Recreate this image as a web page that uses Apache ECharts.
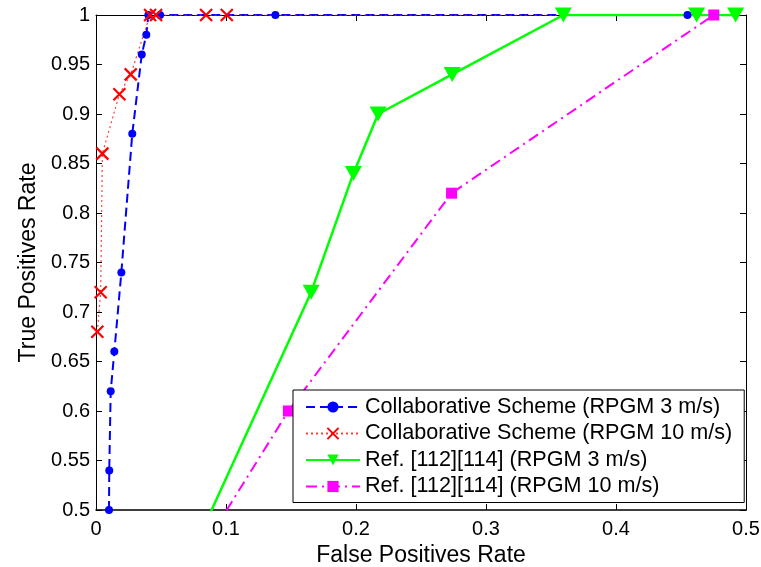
<!DOCTYPE html>
<html>
<head>
<meta charset="utf-8">
<script src="https://cdn.jsdelivr.net/npm/echarts@6/dist/echarts.min.js"></script>
<style>
  html, body { margin: 0; padding: 0; background: #ffffff; }
  #chart { width: 761px; height: 567px; }
</style>
</head>
<body>
<div id="chart"></div>
<script>
// ROC curves: false positive rate (x) vs true positive rate (y)
const seriesNames = [
  'Collaborative Scheme (RPGM 3 m/s)',
  'Collaborative Scheme (RPGM 10 m/s)',
  'Ref. [112][114] (RPGM 3 m/s)',
  'Ref. [112][114] (RPGM 10 m/s)'
];

const fprCollab3 = [0.010, 0.0102, 0.0113, 0.0141, 0.0195, 0.0279, 0.0352, 0.0387, 0.0403, 0.0493, 0.138, 0.455];
const tprCollab3 = [0.50, 0.54, 0.62, 0.66, 0.74, 0.88, 0.96, 0.98, 1.00, 1.00, 1.00, 1.00];

const fprCollab10 = [0.001, 0.0036, 0.0049, 0.018, 0.0267, 0.0416, 0.0462, 0.0847, 0.1006, 0.455];
const tprCollab10 = [0.68, 0.72, 0.86, 0.92, 0.94, 1.00, 1.00, 1.00, 1.00, 1.00];

const fprRef3 = [0.075, 0.1655, 0.198, 0.217, 0.274, 0.3595, 0.462, 0.492];
const tprRef3 = [0.46, 0.72, 0.84, 0.90, 0.94, 1.00, 1.00, 1.00];

const fprRef10 = [0.0816, 0.148, 0.2735, 0.4752];
const tprRef10 = [0.46, 0.60, 0.82, 1.00];

const xTicks = { min: 0, max: 0.5, step: 0.1 };
const yTicks = { min: 0.5, max: 1, step: 0.05 };

function zip(xs, ys) {
  return xs.map((x, i) => [x, ys[i]]);
}

const FONT = "'Liberation Sans', Arial, Helvetica, sans-serif";
const crossPath = 'path://M0,0L10,10M10,0L0,10';
const triDownPath = 'path://M0,0L10,0L5,9Z';

// last point of the 10 m/s curve continues along TPR = 1 without a marker
const collab10Data = zip(fprCollab10, tprCollab10).map((p, i, arr) =>
  i === arr.length - 1 ? { value: p, symbol: 'none' } : p
);

const chart = echarts.init(document.getElementById('chart'), null, { renderer: 'canvas' });

const baseAxis = {
  type: 'value',
  axisLine: { show: true, onZero: false, lineStyle: { color: '#000', width: 1 } },
  axisTick: { show: true, inside: true, length: 6, lineStyle: { color: '#000', width: 1 } },
  splitLine: { show: false },
};

chart.setOption({
  animation: false,
  backgroundColor: '#ffffff',
  textStyle: { fontFamily: FONT },
  grid: { left: 96, right: 15, top: 15, bottom: 57, containLabel: false, outerBoundsMode: 'none' },
  xAxis: [
    Object.assign({}, baseAxis, {
      position: 'bottom',
      min: xTicks.min, max: xTicks.max, interval: xTicks.step,
      axisLine: { show: true, onZero: false, lineStyle: { color: '#000', width: 1.5 } },
      axisLabel: { color: '#000', fontSize: 20, fontFamily: FONT, margin: 9 },
      name: 'False Positives Rate',
      nameLocation: 'middle',
      nameGap: 32,
      nameTextStyle: { color: '#000', fontSize: 23, fontFamily: FONT }
    }),
    Object.assign({}, baseAxis, {
      position: 'top',
      min: xTicks.min, max: xTicks.max, interval: xTicks.step,
      axisLabel: { show: false }
    })
  ],
  yAxis: [
    Object.assign({}, baseAxis, {
      position: 'left',
      min: yTicks.min, max: yTicks.max, interval: yTicks.step,
      axisLabel: { color: '#000', fontSize: 20, fontFamily: FONT, margin: 6 },
      name: 'True Positives Rate',
      nameLocation: 'middle',
      nameGap: 56,
      nameTextStyle: { color: '#000', fontSize: 23, fontFamily: FONT }
    }),
    Object.assign({}, baseAxis, {
      position: 'right',
      min: yTicks.min, max: yTicks.max, interval: yTicks.step,
      axisLabel: { show: false }
    })
  ],
  legend: {
    data: seriesNames,
    orient: 'vertical',
    left: 293,
    top: 390,
    padding: [6, 12, 5, 12],
    itemGap: 4.5,
    itemWidth: 54,
    itemHeight: 14,
    selectedMode: false,
    backgroundColor: '#ffffff',
    borderColor: '#000',
    borderWidth: 1,
    borderRadius: 0,
    textStyle: { color: '#000', fontSize: 21.6, fontFamily: FONT, lineHeight: 22 }
  },
  series: [
    {
      name: seriesNames[0],
      type: 'line',
      data: zip(fprCollab3, tprCollab3),
      symbol: 'circle',
      symbolSize: 8,
      showAllSymbol: true,
      color: '#0000ff',
      itemStyle: { color: '#0000ff' },
      lineStyle: { color: '#0000ff', width: 2, type: [9, 5] }
    },
    {
      name: seriesNames[1],
      type: 'line',
      data: collab10Data,
      symbol: crossPath,
      symbolSize: 12,
      showAllSymbol: true,
      color: '#ff0000',
      itemStyle: { color: '#ff0000', borderColor: '#ff0000', borderWidth: 2.2 },
      lineStyle: { color: '#ff4040', width: 1.2, type: [2, 3] }
    },
    {
      name: seriesNames[2],
      type: 'line',
      data: zip(fprRef3, tprRef3),
      symbol: triDownPath,
      symbolSize: [17, 15],
      showAllSymbol: true,
      color: '#00ff00',
      itemStyle: { color: '#00ff00' },
      lineStyle: { color: '#00ff00', width: 2.5, type: 'solid' }
    },
    {
      name: seriesNames[3],
      type: 'line',
      data: zip(fprRef10, tprRef10),
      symbol: 'rect',
      symbolSize: 11,
      showAllSymbol: true,
      color: '#ff00ff',
      itemStyle: { color: '#ff00ff' },
      lineStyle: { color: '#ff00ff', width: 2, type: [11, 5, 2, 5] }
    }
  ]
});
</script>
</body>
</html>
